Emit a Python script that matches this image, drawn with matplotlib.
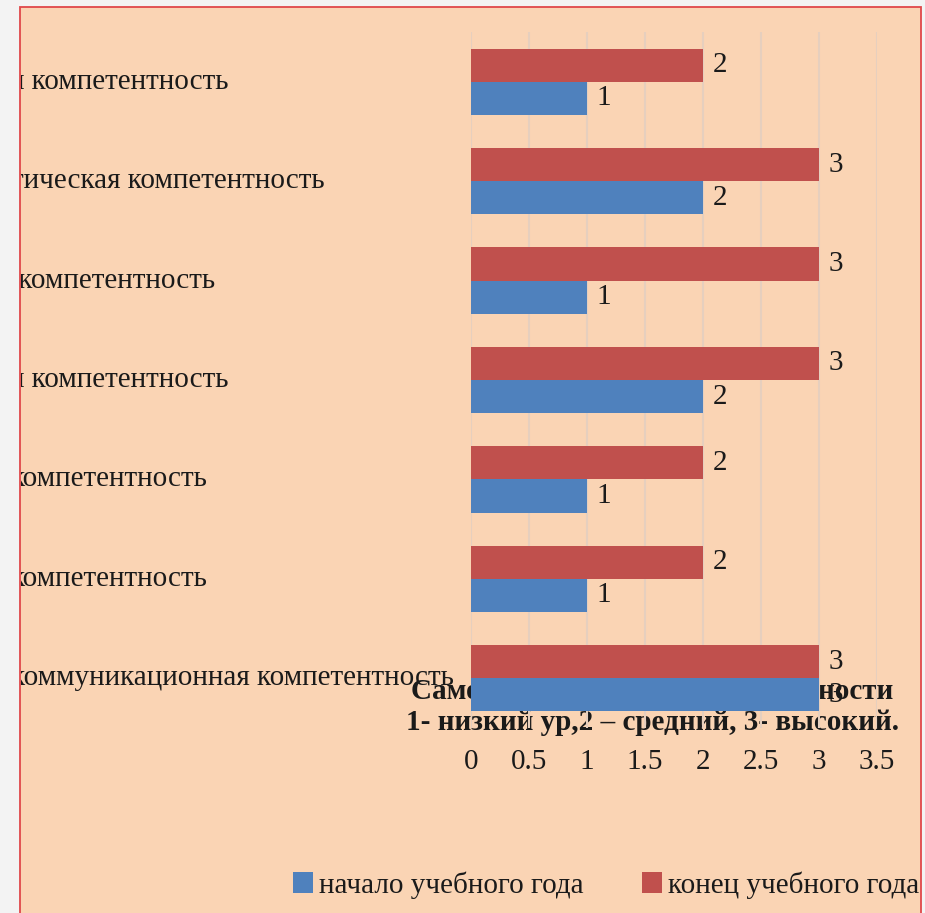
import matplotlib.pyplot as plt
import matplotlib.transforms as mtransforms
import numpy as np
from matplotlib.patches import Patch, Rectangle

plt.rcParams["font.family"] = ["Liberation Serif", "DejaVu Serif"]

# categories from bottom to top (left part of the labels is cut off in the source)
categories = [
    "коммуникационная компетентность",
    "компетентность",
    "компетентность",
    "я компетентность",
    " компетентность",
    "тическая компетентность",
    "я компетентность",
]
start_of_year = [3, 1, 1, 2, 1, 2, 1]
end_of_year = [3, 2, 2, 3, 3, 3, 2]
series_names = ["начало учебного года", "конец учебного года"]
x_ticks = [0, 0.5, 1, 1.5, 2, 2.5, 3, 3.5]
title_text = ("Самооценка уровня компетентности\n"
              "1- низкий ур,2 – средний, 3- высокий.")

BLUE = "#4F81BD"
RED = "#C0504D"
PEACH = "#FAD4B4"
BORDER = "#E0484A"
W, H = 925, 913
FS = 21

fig = plt.figure(figsize=(W / 100, H / 100), dpi=100, facecolor="#F3F3F3")

# chart area with red border
left_px, top_px, right_px = 20, 7, 921
bg = Rectangle((left_px / W, -0.01), (right_px - left_px) / W, 1 - top_px / H + 0.01,
               transform=fig.transFigure, facecolor=PEACH, edgecolor=BORDER,
               lw=1.3, zorder=-3)
fig.add_artist(bg)

ax = fig.add_axes([471 / W, 1 - 728 / H, (877 - 471) / W, (728 - 32) / H])
ax.set_facecolor("none")

y = np.arange(len(categories))
h = 1 / 3
bars_start = ax.barh(y - h / 2, start_of_year, height=h, color=BLUE, zorder=2)
bars_end = ax.barh(y + h / 2, end_of_year, height=h, color=RED, zorder=2)
ax.bar_label(bars_start, padding=7, fontsize=FS, color="#1a1a1a")
ax.bar_label(bars_end, padding=7, fontsize=FS, color="#1a1a1a")

ax.set_xlim(0, 3.5)
ax.set_ylim(-0.5, len(categories) - 0.5)
ax.set_xticks(x_ticks)
ax.set_xticklabels([f"{v:g}" for v in x_ticks], fontsize=FS, color="#1a1a1a")
ax.set_yticks([])
ax.tick_params(axis="x", length=0, pad=15)
for spine in ax.spines.values():
    spine.set_visible(False)
ax.xaxis.grid(True, color="#E6CFBE", lw=1.5, zorder=0)
ax.set_axisbelow(True)

# category labels, clipped at the left border like in the source
trans = mtransforms.blended_transform_factory(fig.transFigure, ax.transData)
clip = mtransforms.TransformedBbox(
    mtransforms.Bbox([[(left_px + 1) / W, 0], [1, 1]]), fig.transFigure)
for yi, label in zip(y, categories):
    t = ax.text((left_px - 9) / W, yi, label, transform=trans, ha="left",
                va="center", fontsize=FS, color="#1a1a1a")
    t.set_clip_box(clip)
    t.set_clip_on(True)

fig.text(652 / W, 1 - 707 / H, title_text, ha="center", va="center",
         fontsize=FS, fontweight="bold", color="#1a1a1a", linespacing=1.2,
         zorder=-1)

handles = [Patch(facecolor=BLUE), Patch(facecolor=RED)]
fig.legend(handles, series_names, loc="center", bbox_to_anchor=(606 / W, 1 - 885 / H),
           ncol=2, frameon=False, fontsize=FS, handlelength=0.7, handleheight=0.7,
           handletextpad=0.2, columnspacing=2.0, labelcolor="#1a1a1a")

fig.savefig("out.png", dpi=100, facecolor=fig.get_facecolor())
